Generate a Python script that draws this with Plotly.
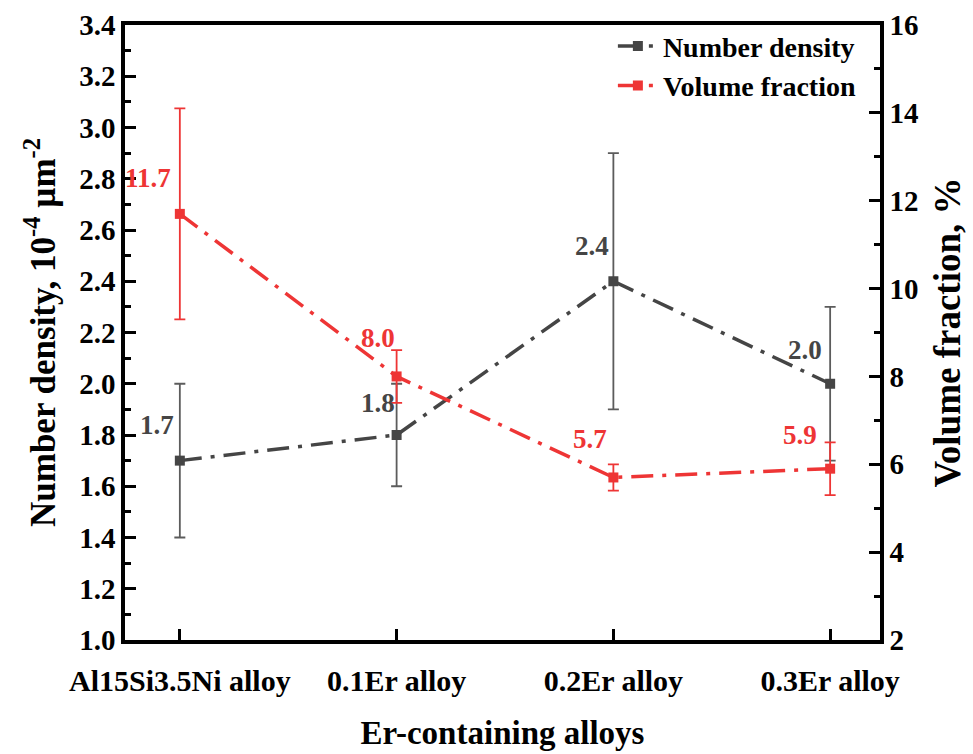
import plotly.graph_objects as go

categories = ["Al15Si3.5Ni alloy", "0.1Er alloy", "0.2Er alloy", "0.3Er alloy"]
number_density = [1.7, 1.8, 2.4, 2.0]
number_density_err = [0.3, 0.2, 0.5, 0.3]
volume_fraction = [11.7, 8.0, 5.7, 5.9]
volume_fraction_err = [2.4, 0.6, 0.3, 0.6]

xpos = list(range(len(categories)))
GRAY = "#454545"
RED = "#ee3535"
FONT = "Liberation Serif, Times New Roman, serif"
DASH = "22px,9px,4px,9px"

fig = go.Figure()
fig.add_trace(go.Scatter(
    x=xpos, y=number_density, name="<b>Number density</b>", mode="lines+markers",
    line=dict(color=GRAY, width=3.5, dash=DASH),
    marker=dict(symbol="square", size=10, color=GRAY),
    error_y=dict(type="data", array=number_density_err, color="#5c5c5c", thickness=1.8, width=5.5),
    yaxis="y"))
fig.add_trace(go.Scatter(
    x=xpos, y=volume_fraction, name="<b>Volume fraction</b>", mode="lines+markers",
    line=dict(color=RED, width=3.5, dash=DASH),
    marker=dict(symbol="square", size=10, color=RED),
    error_y=dict(type="data", array=volume_fraction_err, color=RED, thickness=1.8, width=5.5),
    yaxis="y2"))

nd_shift = [(-23, 36), (-19, 32), (-21, 35), (-25, 34)]
vf_shift = [(-32, 36), (-19, 38), (-23, 38), (-30, 34)]
for i, v in enumerate(number_density):
    fig.add_annotation(x=xpos[i], y=v, xref="x", yref="y", text=f"<b>{v:.1f}</b>",
                       showarrow=False, xshift=nd_shift[i][0], yshift=nd_shift[i][1],
                       font=dict(family=FONT, size=27, color=GRAY))
for i, v in enumerate(volume_fraction):
    fig.add_annotation(x=xpos[i], y=v, xref="x", yref="y2", text=f"<b>{v:.1f}</b>",
                       showarrow=False, xshift=vf_shift[i][0], yshift=vf_shift[i][1],
                       font=dict(family=FONT, size=27, color=RED))

fig.update_layout(
    width=973, height=754,
    margin=dict(l=125, r=93, t=25, b=114),
    paper_bgcolor="white", plot_bgcolor="white",
    font=dict(family=FONT, color="black", size=26),
    showlegend=True,
    legend=dict(x=0.976, y=1.006, xanchor="right", yanchor="top",
                font=dict(family=FONT, size=28, color="black"),
                bgcolor="rgba(0,0,0,0)", itemwidth=40, tracegroupgap=0),
    xaxis=dict(range=[-0.253, 3.23], tickvals=xpos, ticktext=[f"<b>{c}</b>" for c in categories],
               automargin=False,
               showline=True, linecolor="black", linewidth=3.5, mirror=True,
               ticks="inside", ticklen=11, tickwidth=2.5, tickcolor="black",
               ticklabelstandoff=11,
               showgrid=False, zeroline=False,
               tickfont=dict(family=FONT, size=30),
               title=dict(text="<b>Er-containing alloys</b>", font=dict(family=FONT, size=33), standoff=26)),
    yaxis=dict(range=[1.0, 3.4], tickvals=[1.0 + 0.2 * k for k in range(13)],
               ticktext=[f"<b>{1.0 + 0.2 * k:.1f}</b>" for k in range(13)],
               automargin=False,
               showline=True, linecolor="black", linewidth=3.5,
               ticks="inside", ticklen=11, tickwidth=2.5, tickcolor="black",
               minor=dict(ticks="inside", ticklen=6, tickwidth=2.5, tickcolor="black", dtick=0.1),
               showgrid=False, zeroline=False,
               tickfont=dict(family=FONT, size=29),
               title=dict(text="<b>Number density, 10<sup>-4</sup> µm<sup>-2</sup></b>",
                          font=dict(family=FONT, size=35), standoff=14)),
    yaxis2=dict(range=[2, 16], tickvals=list(range(2, 17, 2)),
                ticktext=[f"<b>{k}</b>" for k in range(2, 17, 2)],
                automargin=False,
                overlaying="y", side="right",
                showline=True, linecolor="black", linewidth=3.5,
                ticks="inside", ticklen=11, tickwidth=2.5, tickcolor="black",
                minor=dict(ticks="inside", ticklen=6, tickwidth=2.5, tickcolor="black", dtick=1),
                showgrid=False, zeroline=False,
                tickfont=dict(family=FONT, size=29),
                title=dict(text="<b>Volume fraction, %</b>", font=dict(family=FONT, size=37), standoff=18)),
)

fig.write_html("out.html")
